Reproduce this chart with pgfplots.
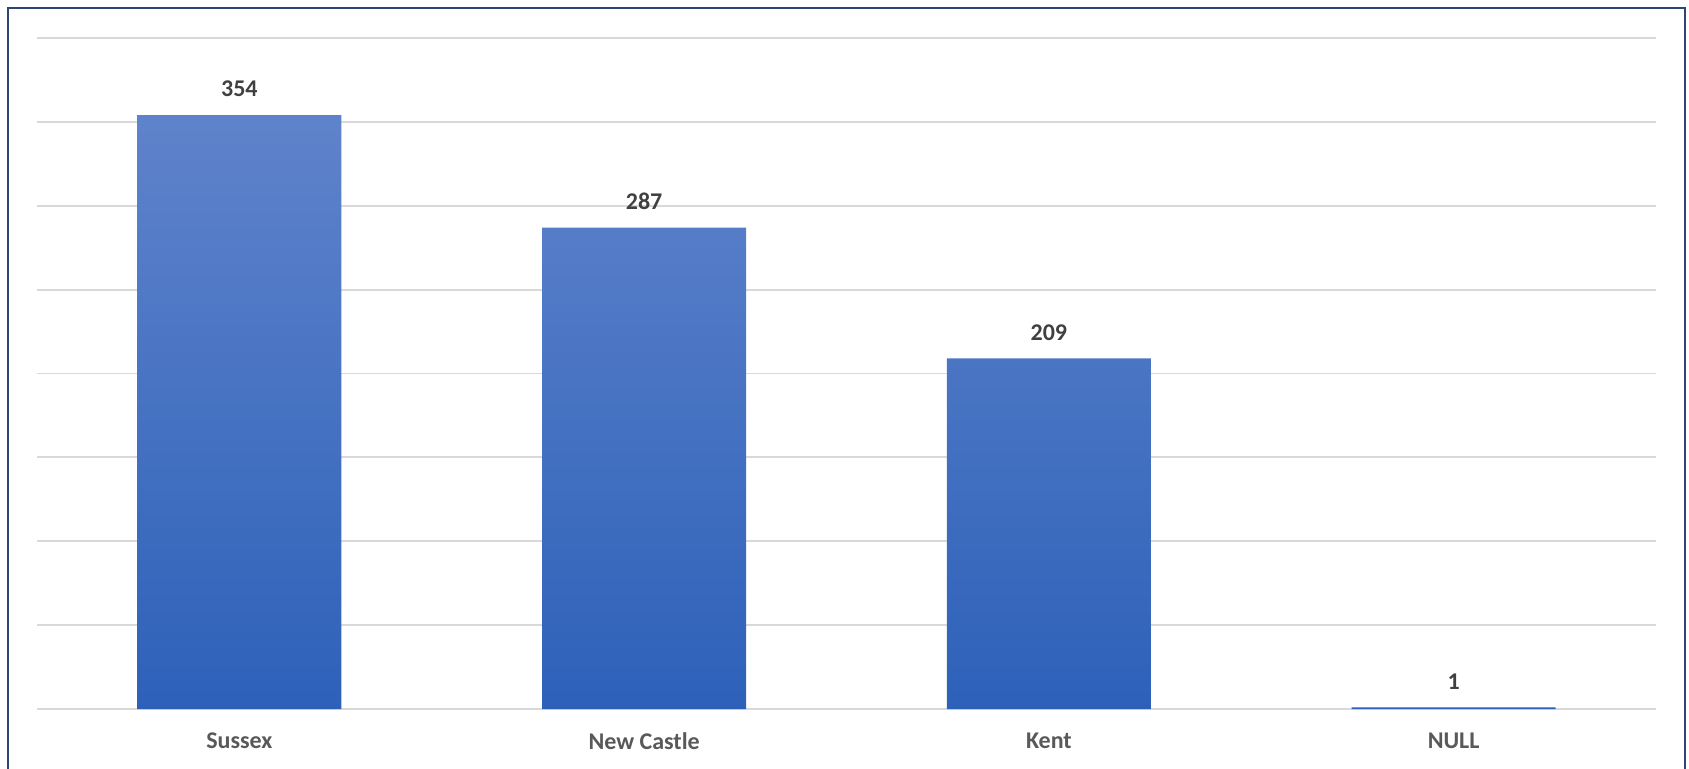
\documentclass[border=0pt]{standalone}
\usepackage{pgfplots}
\pgfplotsset{compat=1.18}
\usepackage{fontspec}
\setmainfont{Carlito}
\definecolor{gridc}{HTML}{D9D9D9}
\definecolor{bartop}{HTML}{5F83CB}
\definecolor{barbot}{HTML}{2D61B9}
\definecolor{framec}{HTML}{2B4677}
\definecolor{labc}{HTML}{595959}
\definecolor{valc}{HTML}{404040}
\begin{document}
\begin{tikzpicture}
\path[use as bounding box] (0,0) rectangle (844.5pt,384pt);
\begin{axis}[
  at={(18.5pt,29.5pt)}, anchor=south west,
  scale only axis, width=809.5pt, height=335.5pt,
  xmin=-0.5, xmax=3.5, ymin=0, ymax=400,
  ytick={0,50,...,400}, yticklabels={},
  xtick=data, xticklabels={Sussex,New Castle,Kent,NULL},
  major tick length=0pt,
  ymajorgrids, grid style={gridc, line width=0.9pt},
  axis line style={draw=none},
  xticklabel style={font=\bfseries\fontsize{12}{14}\selectfont, text=labc, yshift=-8.5pt},
  ybar, bar width=0.504,
  nodes near coords,
  /pgf/number format/assume math mode=true,
  every node near coord/.append style={font=\bfseries\fontsize{12}{14}\selectfont, text=valc, yshift=5.5pt},
]
\addplot[draw=none, top color=bartop, bottom color=barbot] coordinates {(0,354) (1,287) (2,209) (3,1)};
\end{axis}
\draw[framec, line width=1.2pt] (4pt,-2pt) -- (4pt,380pt) -- (842.5pt,380pt) -- (842.5pt,-2pt);
\end{tikzpicture}
\end{document}
